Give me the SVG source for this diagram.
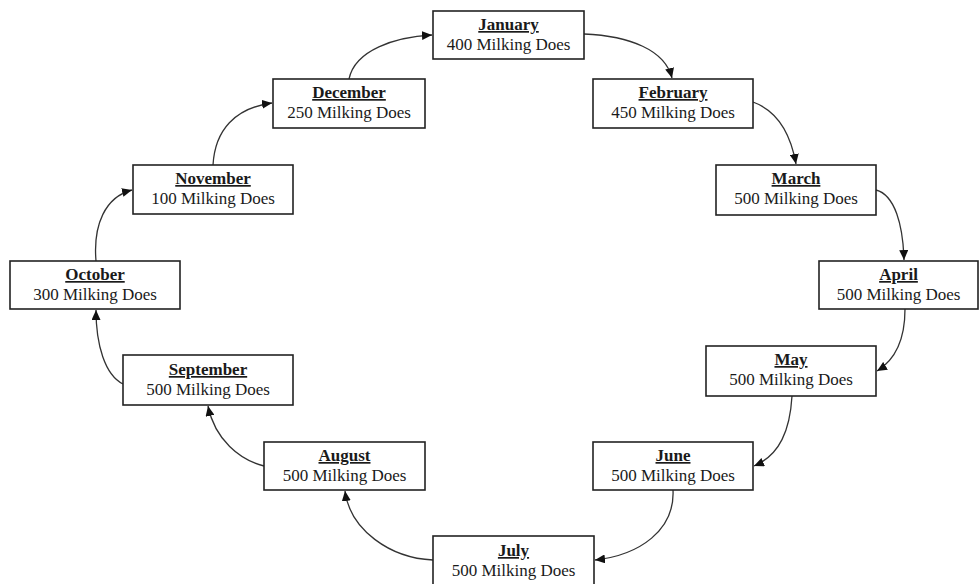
<svg xmlns="http://www.w3.org/2000/svg" width="979" height="584" viewBox="0 0 979 584">
<style>
.box{fill:#fff;stroke:#222;stroke-width:1.6}
.t{font-family:"Liberation Serif","Times New Roman",serif;font-size:17px;fill:#1a1a1a;text-anchor:middle}
.h{font-weight:bold;text-decoration:underline}
.c{fill:none;stroke:#333;stroke-width:1.3}
</style>
<defs>
<marker id="ah" markerUnits="userSpaceOnUse" markerWidth="11" markerHeight="9" refX="10" refY="4.5" orient="auto">
<path d="M0,0 L10,4.5 L0,9 Z" fill="#111"/>
</marker>
</defs>
<rect width="979" height="584" fill="#fff"/>
<g id="connectors">
<path class="c" marker-end="url(#ah)" d="M349,79 C355,50 395,37 432,35"/>
<path class="c" marker-end="url(#ah)" d="M584,34 C630,36 665,50 672,78"/>
<path class="c" marker-end="url(#ah)" d="M753,102 C775,110 790,130 796,164"/>
<path class="c" marker-end="url(#ah)" d="M876,190 C895,195 903,225 904,260"/>
<path class="c" marker-end="url(#ah)" d="M905,309 C905,340 895,360 877,371"/>
<path class="c" marker-end="url(#ah)" d="M792,396 C790,430 780,455 754,466"/>
<path class="c" marker-end="url(#ah)" d="M673,490 C675,530 640,555 595,560"/>
<path class="c" marker-end="url(#ah)" d="M433,560 C390,558 350,530 345,491"/>
<path class="c" marker-end="url(#ah)" d="M264,466 C240,460 215,440 208,406"/>
<path class="c" marker-end="url(#ah)" d="M123,384 C105,375 96,345 96,310"/>
<path class="c" marker-end="url(#ah)" d="M96,261 C93,225 105,197 132,190"/>
<path class="c" marker-end="url(#ah)" d="M213,165 C215,130 235,108 272,103"/>
</g>
<g id="january"><rect class="box" x="433" y="11" width="151" height="48"/><text class="t h" x="508.5" y="30">January</text><text class="t" x="508.5" y="50">400 Milking Does</text></g>
<g id="february"><rect class="box" x="593" y="79" width="160" height="49"/><text class="t h" x="673" y="98">February</text><text class="t" x="673" y="118">450 Milking Does</text></g>
<g id="march"><rect class="box" x="716" y="165" width="160" height="50"/><text class="t h" x="796" y="184">March</text><text class="t" x="796" y="204">500 Milking Does</text></g>
<g id="april"><rect class="box" x="819" y="261" width="159" height="48"/><text class="t h" x="898.5" y="280">April</text><text class="t" x="898.5" y="300">500 Milking Does</text></g>
<g id="may"><rect class="box" x="706" y="346" width="170" height="50"/><text class="t h" x="791" y="365">May</text><text class="t" x="791" y="385">500 Milking Does</text></g>
<g id="june"><rect class="box" x="593" y="442" width="160" height="48"/><text class="t h" x="673" y="461">June</text><text class="t" x="673" y="481">500 Milking Does</text></g>
<g id="july"><rect class="box" x="433" y="536" width="161" height="50"/><text class="t h" x="513.5" y="556">July</text><text class="t" x="513.5" y="576">500 Milking Does</text></g>
<g id="august"><rect class="box" x="264" y="442" width="161" height="48"/><text class="t h" x="344.5" y="461">August</text><text class="t" x="344.5" y="481">500 Milking Does</text></g>
<g id="september"><rect class="box" x="123" y="355" width="170" height="50"/><text class="t h" x="208" y="375">September</text><text class="t" x="208" y="395">500 Milking Does</text></g>
<g id="october"><rect class="box" x="10" y="261" width="170" height="48"/><text class="t h" x="95" y="280">October</text><text class="t" x="95" y="300">300 Milking Does</text></g>
<g id="november"><rect class="box" x="133" y="165" width="160" height="49"/><text class="t h" x="213" y="184">November</text><text class="t" x="213" y="204">100 Milking Does</text></g>
<g id="december"><rect class="box" x="273" y="79" width="152" height="49"/><text class="t h" x="349" y="98">December</text><text class="t" x="349" y="118">250 Milking Does</text></g>
</svg>
